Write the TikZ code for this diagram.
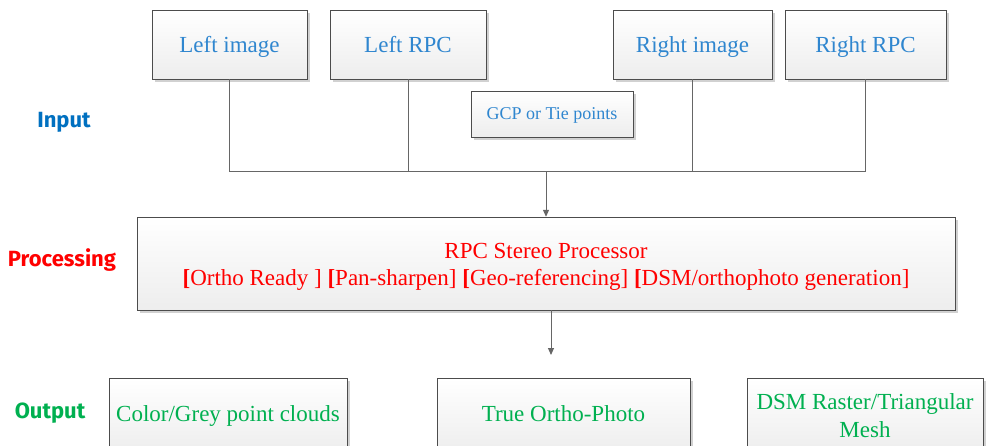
\documentclass[tikz,border=0pt]{standalone}
\usepackage{fontspec}
\setmainfont{Liberation Serif}
\newfontfamily\labelfont{Fira Sans}
\usetikzlibrary{positioning, shadows, arrows.meta}
\definecolor{imgblue}{HTML}{2F86CF}
\definecolor{inblue}{HTML}{0070C0}
\definecolor{procred}{HTML}{FF0000}
\definecolor{outgreen}{HTML}{00B050}
\tikzstyle{box} = [rectangle, draw=black!70, top color=white, bottom color=black!7, drop shadow={shadow xshift=2.5pt, shadow yshift=-2.5pt, fill=black!18, opacity=1}, text centered, align=center]
\tikzstyle{inbox} = [box, minimum height=69pt, text=imgblue, font=\fontsize{23}{27}\selectfont, text height=19pt, text depth=4pt]
\tikzstyle{outbox} = [box, minimum height=75pt, text=outgreen, font=\fontsize{23}{28}\selectfont]
\tikzstyle{oneline} = [text height=16pt, text depth=5pt]
\tikzstyle{stage} = [font=\labelfont\bfseries\fontsize{22}{24}\selectfont]
\tikzstyle{line} = [draw=black!60, line width=1pt]
\tikzstyle{arrow} = [line, -{Triangle[length=7pt,width=6pt]}]

\begin{document}
\begin{tikzpicture}[x=1pt, y=-1pt]
    \useasboundingbox (0,0) rectangle (990,445);
    \clip (0,0) rectangle (990,445);
    %stage labels
    \node (lblin) [stage, text=inblue] at (64,122) {Input};
    \node (lblproc) [stage, text=procred] at (62,260) {Processing};
    \node (lblout) [stage, text=outgreen] at (50,413) {Output};

    %input boxes
    \node (leftimg) [inbox, minimum width=155pt] at (229.5,44.5) {Left image};
    \node (leftrpc) [inbox, minimum width=156pt] at (408,44.5) {Left RPC};
    \node (rightimg) [inbox, minimum width=159pt] at (692.5,44.5) {Right image};
    \node (rightrpc) [inbox, minimum width=161pt] at (865.5,44.5) {Right RPC};
    \node (gcp) [box, minimum width=162pt, minimum height=46pt, text=imgblue, font=\fontsize{18}{21}\selectfont, text height=14pt, text depth=4pt] at (552,114) {GCP or Tie points};

    %processing box
    \node (proc) [box, minimum width=818pt, minimum height=93pt, text=procred, font=\fontsize{23}{27}\selectfont] at (546,263.5)
        {\rule{0pt}{22pt}RPC Stereo Processor\\{\bfseries[}Ortho Ready ] {\bfseries[}Pan-sharpen] {\bfseries[}Geo-referencing] {\bfseries[}DSM/orthophoto generation]};

    %output boxes
    \node (clouds) [outbox, oneline, minimum width=238pt] at (228,415.5) {Color/Grey point clouds};
    \node (ortho) [outbox, oneline, minimum width=253pt] at (563.5,415.5) {True Ortho-Photo};
    \node (dsm) [outbox, minimum width=236pt] at (865,415.5) {DSM Raster/Triangular\\Mesh};

    %connectors
    \coordinate (bus) at (546,171);
    \coordinate (outend) at (551,355);
    \draw [line] (leftimg.south) -- (leftimg.south |- bus) -- (rightrpc.south |- bus) -- (rightrpc.south);
    \draw [line] (leftrpc.south) -- (leftrpc.south |- bus);
    \draw [line] (rightimg.south) -- (rightimg.south |- bus);
    \draw [arrow] (bus) -- (proc.north);
    \draw [arrow] (outend |- proc.south) -- (outend);
\end{tikzpicture}
\end{document}
